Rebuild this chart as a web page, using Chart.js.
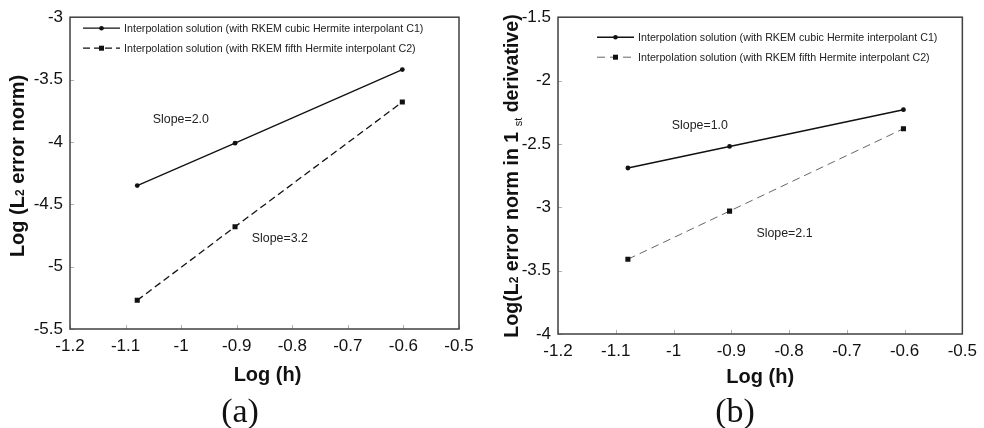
<!DOCTYPE html>
<html>
<head>
<meta charset="utf-8">
<script src="https://cdn.jsdelivr.net/npm/chart.js@4/dist/chart.umd.min.js"></script>
<style>
html,body{margin:0;padding:0;background:#fff;}
#wrap{position:relative;width:984px;height:428px;overflow:hidden;}
.pane{position:absolute;top:0;height:428px;}
</style>
</head>
<body>
<div id="wrap">
  <div class="pane" style="left:0;width:490px;"><canvas id="ca" width="490" height="428"></canvas></div>
  <div class="pane" style="left:490px;width:494px;"><canvas id="cb" width="494" height="428"></canvas></div>
</div>
<script>
// ---------- data ----------
const logH = [-1.079, -0.903, -0.602];
const l2CubicA = [-4.35, -4.01, -3.42];
const l2FifthA = [-5.27, -4.68, -3.68];
const d1CubicB = [-2.69, -2.52, -2.23];
const d1FifthB = [-3.41, -3.03, -2.38];
const xTickLabels = ['-1.2', '-1.1', '-1', '-0.9', '-0.8', '-0.7', '-0.6', '-0.5'];
const yTickLabelsA = ['-5.5', '-5', '-4.5', '-4', '-3.5', '-3'];
const yTickLabelsB = ['-4', '-3.5', '-3', '-2.5', '-2', '-1.5'];
const seriesNames = [
  'Interpolation solution (with RKEM cubic Hermite interpolant C1)',
  'Interpolation solution (with RKEM fifth Hermite interpolant C2)'
];
const slopeNotesA = [{x: -1.051, y: -3.818, text: 'Slope=2.0'}, {x: -0.873, y: -4.778, text: 'Slope=3.2'}];
const slopeNotesB = [{x: -1.003, y: -2.359, text: 'Slope=1.0'}, {x: -0.8565, y: -3.21, text: 'Slope=2.1'}];

const SANS = "'Liberation Sans', Arial, sans-serif";

function pts(xs, ys) { return xs.map((x, i) => ({x: x, y: ys[i]})); }

const deco = {
  id: 'deco',
  afterDraw(chart, args, o) {
    const ctx = chart.ctx, a = chart.chartArea, xs = chart.scales.x, ys = chart.scales.y;
    ctx.save();
    // inner tick marks
    ctx.strokeStyle = '#b0b0b0';
    ctx.lineWidth = 1;
    ctx.beginPath();
    xs.ticks.forEach(t => {
      const px = Math.round(xs.getPixelForValue(t.value)) + 0.5;
      ctx.moveTo(px, a.bottom); ctx.lineTo(px, a.bottom - 4);
    });
    ys.ticks.forEach(t => {
      const py = Math.round(ys.getPixelForValue(t.value)) + 0.5;
      ctx.moveTo(a.left, py); ctx.lineTo(a.left + 4, py);
    });
    ctx.stroke();
    // frame
    ctx.strokeStyle = '#404040';
    ctx.lineWidth = 1.5;
    ctx.strokeRect(a.left, a.top, a.right - a.left, a.bottom - a.top);

    // legend
    ctx.font = '10.7px ' + SANS;
    ctx.textBaseline = 'middle';
    ctx.textAlign = 'left';
    chart.data.datasets.forEach((ds, i) => {
      const y = a.top + o.legY[i];
      const x0 = a.left + o.legX;
      ctx.strokeStyle = ds.borderColor;
      ctx.lineWidth = ds.borderWidth;
      ctx.setLineDash(ds.borderDash || []);
      ctx.beginPath(); ctx.moveTo(x0, y); ctx.lineTo(x0 + 37, y); ctx.stroke();
      ctx.setLineDash([]);
      ctx.fillStyle = '#111';
      if (ds.pointStyle === 'rect') {
        ctx.fillRect(x0 + 18.5 - 2.5, y - 2.5, 5, 5);
      } else {
        ctx.beginPath(); ctx.arc(x0 + 18.5, y, 2.3, 0, Math.PI * 2); ctx.fill();
      }
      ctx.fillStyle = '#222';
      ctx.fillText(ds.label, a.left + o.legTextX, y + 0.5);
    });

    // slope notes (data coordinates)
    ctx.font = '12.4px ' + SANS;
    ctx.fillStyle = '#222';
    o.notes.forEach(n => {
      ctx.fillText(n.text, xs.getPixelForValue(n.x), ys.getPixelForValue(n.y));
    });

    // x title
    ctx.font = 'bold 20px ' + SANS;
    ctx.textAlign = 'center';
    ctx.fillStyle = '#111';
    ctx.fillText('Log (h)', (a.left + a.right) / 2 + o.xTitleDx, o.xTitleY);

    // y title (rotated, with sub/superscripts)
    ctx.save();
    ctx.translate(o.yTitleX, o.yTitleY);
    ctx.rotate(-Math.PI / 2);
    const parts = o.yTitle;
    const big = 'bold ' + o.yTitleSize + 'px ';
    let total = 0;
    parts.forEach(p => {
      ctx.font = (p.small ? (p.sup ? '11px ' : 'bold 12px ') : big) + SANS;
      p.w = ctx.measureText(p.t).width;
      total += p.w;
    });
    let cx = -total / 2;
    ctx.textAlign = 'left';
    ctx.textBaseline = 'alphabetic';
    parts.forEach(p => {
      ctx.font = (p.small ? (p.sup ? '11px ' : 'bold 12px ') : big) + SANS;
      ctx.fillText(p.t, cx, 7 + (p.dy || 0));
      cx += p.w;
    });
    ctx.restore();

    // panel label
    ctx.font = "34px 'Liberation Serif', 'Times New Roman', serif";
    ctx.textAlign = 'center';
    ctx.textBaseline = 'middle';
    ctx.fillStyle = '#111';
    ctx.fillText(o.panel, o.panelX, o.panelY);
    ctx.restore();
  }
};

function makeChart(id, cfg) {
  return new Chart(document.getElementById(id), {
    type: 'line',
    data: {
      datasets: [
        {label: seriesNames[0], data: pts(logH, cfg.s1), borderColor: '#111', borderWidth: cfg.w1,
         pointStyle: 'circle', pointRadius: 2.4, pointBackgroundColor: '#111', pointBorderWidth: 0,
         showLine: true, tension: 0, fill: false},
        {label: seriesNames[1], data: pts(logH, cfg.s2), borderColor: cfg.c2, borderWidth: cfg.w2, borderDash: cfg.dash,
         pointStyle: 'rect', pointRadius: 3.6, pointBackgroundColor: '#111', pointBorderWidth: 0,
         showLine: true, tension: 0, fill: false}
      ]
    },
    options: {
      responsive: false,
      devicePixelRatio: 1,
      animation: false,
      events: [],
      layout: {padding: {left: 0, top: cfg.top, right: cfg.right, bottom: 0}},
      plugins: {
        legend: {display: false},
        tooltip: {enabled: false},
        deco: cfg.deco
      },
      scales: {
        x: {
          type: 'linear', min: -1.2, max: -0.5,
          grid: {display: false, drawTicks: false},
          border: {display: false},
          ticks: {stepSize: 0.1, padding: 7, color: '#111', font: {family: SANS, size: 17},
                  maxRotation: 0, autoSkip: false,
                  callback: (v, i) => xTickLabels[i]},
          afterFit: s => { s.height = cfg.xh; }
        },
        y: {
          type: 'linear', min: cfg.ymin, max: cfg.ymax,
          grid: {display: false, drawTicks: false},
          border: {display: false},
          ticks: {stepSize: 0.5, padding: 7, color: '#111', font: {family: SANS, size: 17},
                  callback: (v, i) => cfg.yLabels[i]},
          afterFit: s => { s.width = cfg.yw; }
        }
      }
    },
    plugins: [deco]
  });
}

makeChart('ca', {
  s1: l2CubicA, s2: l2FifthA, w1: 1.3, w2: 1.3, c2: '#111', dash: [7, 4],
  top: 17, right: 31, xh: 99, yw: 70, ymin: -5.5, ymax: -3, yLabels: yTickLabelsA,
  deco: {
    legX: 13, legTextX: 54, legY: [11, 31], notes: slopeNotesA,
    xTitleY: 375, xTitleDx: 3,
    yTitleX: 17, yTitleY: 166, yTitleSize: 20,
    yTitle: [{t: 'Log (L'}, {t: '2', small: true}, {t: ' error norm)'}],
    panel: '(a)', panelX: 240, panelY: 413
  }
});

makeChart('cb', {
  s1: d1CubicB, s2: d1FifthB, w1: 1.5, w2: 0.9, c2: '#555', dash: [8, 5],
  top: 17, right: 17, xh: 94, yw: 68, ymin: -4, ymax: -1.5, yLabels: yTickLabelsB,
  deco: {
    legX: 39, legTextX: 80, legY: [20, 40], notes: slopeNotesB,
    xTitleY: 377, xTitleDx: 0,
    yTitleX: 21, yTitleY: 176, yTitleSize: 19.6,
    yTitle: [{t: 'Log(L'}, {t: '2', small: true}, {t: ' error norm in 1 '}, {t: 'st', small: true, sup: true, dy: 4}, {t: ' derivative)'}],
    panel: '(b)', panelX: 245, panelY: 413
  }
});
</script>
</body>
</html>
